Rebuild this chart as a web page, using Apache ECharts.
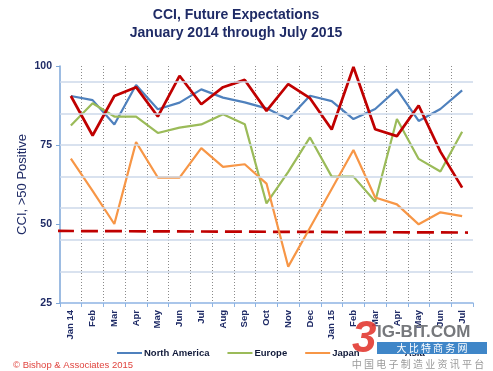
<!DOCTYPE html>
<html>
<head>
<meta charset="utf-8">
<script src="https://cdn.jsdelivr.net/npm/echarts@6/dist/echarts.min.js"></script>
<style>
html,body{margin:0;padding:0;background:#fff;}
#chart{width:493px;height:371px;}
</style>
</head>
<body>
<div id="chart"></div>
<script>
// ---- data ----
const categories = ['Jan 14','Feb','Mar','Apr','May','Jun','Jul','Aug','Sep','Oct','Nov','Dec','Jan 15','Feb','Mar','Apr','May','Jun','Jul'];
const northAmerica = [90.5, 89.2, 81.5, 94.0, 86.3, 88.4, 92.6, 90.0, 88.5, 86.6, 83.2, 90.6, 88.9, 83.2, 86.4, 92.6, 82.6, 86.4, 92.3];
const europe       = [81.2, 88.2, 84.0, 84.0, 78.8, 80.5, 81.5, 84.7, 81.6, 56.5, 66.5, 77.4, 65.0, 65.0, 57.1, 83.2, 70.6, 66.6, 79.2];
const japan        = [70.7, 60.5, 50.0, 75.9, 64.7, 64.7, 74.0, 68.1, 68.9, 62.8, 36.5, 48.8, 61.1, 73.4, 58.4, 56.2, 49.9, 53.7, 52.5];
const asia         = [90.5, 78.0, 90.5, 93.3, 84.0, 96.9, 87.9, 93.3, 95.6, 85.8, 94.3, 89.8, 79.9, 99.7, 80.0, 77.8, 87.5, 72.9, 61.5];
const yTickLabels  = [25, 50, 75, 100];
const gridValues   = [35, 45, 55, 65, 75, 85, 95];
// dashed reference line (position along category index, value)
const refLineX = [-0.14, 18.77];
const refLineY = [47.8, 47.3];
const seriesNames = ['North America', 'Europe', 'Japan', 'Asia'];

// ---- chart ----
const navy = '#1f2b66';
const font = 'Liberation Sans, Arial, sans-serif';
const chart = echarts.init(document.getElementById('chart'), null, {renderer: 'canvas'});

const yMin = yTickLabels[0], yMax = yTickLabels[yTickLabels.length - 1];
const yStep = yTickLabels[1] - yTickLabels[0];

const lineSeries = (name, data, color, width) => ({
  name, type: 'line', data, symbol: 'none', smooth: false,
  lineStyle: {color, width}, itemStyle: {color},
  emphasis: {disabled: true}
});

chart.setOption({
  animation: false,
  textStyle: {fontFamily: font},
  grid: {left: 60, right: 20, top: 66, bottom: 68},
  xAxis: [{
    type: 'category', data: categories, boundaryGap: true,
    axisLine: {lineStyle: {color: '#8eb4e3', width: 1.5}},
    axisTick: {show: true, length: 4, lineStyle: {color: '#8eb4e3'}},
    axisLabel: {rotate: 90, fontSize: 9.5, fontWeight: 'bold', color: navy, margin: 7, interval: 0, fontFamily: font},
    splitLine: {show: true, showMinLine: false, showMaxLine: false, lineStyle: {type: [1, 2], color: '#8a8a8a', width: 1}}
  }, {
    type: 'value', min: 0, max: categories.length, show: false
  }],
  yAxis: [{
    type: 'value', min: yMin, max: yMax, interval: yStep,
    name: 'CCI, >50 Positive', nameLocation: 'middle', nameGap: 31, nameRotate: 90,
    nameMoveOverlap: false,
    nameTextStyle: {fontSize: 13, color: navy, fontFamily: font},
    axisLine: {show: true, lineStyle: {color: '#7da6d8', width: 1.5}},
    axisTick: {show: true, length: 4, lineStyle: {color: '#7da6d8'}},
    axisLabel: {fontSize: 10.5, fontWeight: 'bold', color: navy, margin: 8, fontFamily: font},
    splitLine: {show: false}
  }],
  legend: {
    data: seriesNames, left: 112, top: 343, itemWidth: 25, itemHeight: 2, itemGap: 18,
    icon: 'rect',
    textStyle: {fontSize: 9.5, fontWeight: 'bold', color: '#111a3a', fontFamily: font, padding: [0, 0, 0, -3]}
  },
  series: [
    {
      name: 'grid', type: 'line', data: [], silent: true,
      markLine: {
        silent: true, symbol: 'none', label: {show: false},
        lineStyle: {color: '#cdd8ea', width: 1.5, type: 'solid'},
        data: gridValues.map(v => ({yAxis: v}))
      }
    },
    {
      name: 'ref', type: 'line', xAxisIndex: 1, yAxisIndex: 0, clip: false, silent: true,
      data: refLineX.map((x, i) => [x, refLineY[i]]), symbol: 'none',
      lineStyle: {color: '#c00000', width: 2.7, type: [17, 7]}
    },
    lineSeries('North America', northAmerica, '#4f81bd', 2.2),
    lineSeries('Europe', europe, '#9bbb59', 2.2),
    lineSeries('Japan', japan, '#f79646', 2.2),
    lineSeries('Asia', asia, '#c00000', 2.7)
  ],
  graphic: [
    {type: 'text', z: 10, style: {text: 'CCI, Future Expectations', x: 236, y: 15, align: 'center', verticalAlign: 'middle', fontSize: 14, fontWeight: 'bold', fill: navy, fontFamily: font}},
    {type: 'text', z: 10, style: {text: 'January 2014 through July 2015', x: 236, y: 33, align: 'center', verticalAlign: 'middle', fontSize: 14, fontWeight: 'bold', fill: navy, fontFamily: font}},
    {type: 'text', z: 10, style: {text: '\u00a9 Bishop & Associates 2015', x: 13, y: 365, verticalAlign: 'middle', fontSize: 9.5, fill: '#e0443e', fontFamily: font}},
    // watermark
    {type: 'text', z: 20, style: {text: '3', x: 352, y: 340, verticalAlign: 'middle', fontSize: 44, fontWeight: 'bold', fontStyle: 'italic', fill: '#e23a32', opacity: 0.9, fontFamily: font}},
    {type: 'text', z: 20, style: {text: 'IG-BIT.COM', x: 377, y: 332, verticalAlign: 'middle', fontSize: 17, fontWeight: 'bold', fill: '#76787c', fontFamily: font}},
    {type: 'rect', z: 20, shape: {x: 377, y: 342, width: 110, height: 12}, style: {fill: '#3f86c8'}},
    {type: 'text', z: 21, style: {text: '大 比 特 商 务 网', x: 432, y: 348, align: 'center', verticalAlign: 'middle', fontSize: 10, fill: '#ffffff', fontFamily: 'Noto Sans CJK SC'}},
    {type: 'text', z: 20, style: {text: '中 国 电 子 制 造 业 资 讯 平 台', x: 418, y: 364, align: 'center', verticalAlign: 'middle', fontSize: 10, fill: '#9a9a9a', fontFamily: 'Noto Sans CJK SC'}}
  ]
});
</script>
</body>
</html>
